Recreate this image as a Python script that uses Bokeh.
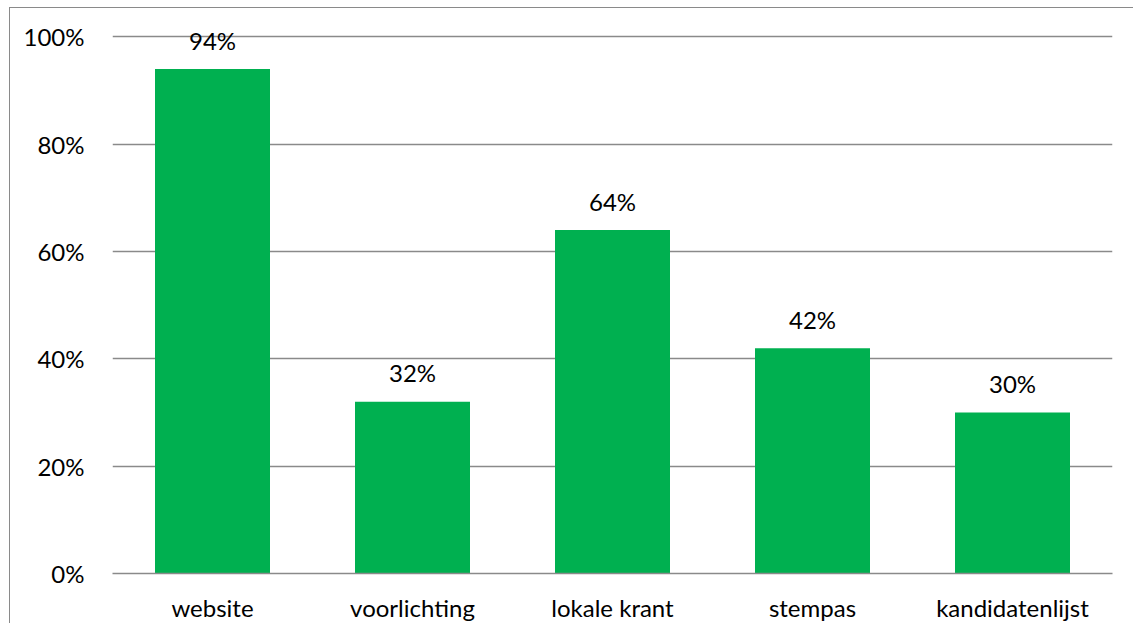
from bokeh.plotting import figure
from bokeh.models import ColumnDataSource, NumeralTickFormatter, FixedTicker, Range1d
from bokeh.core.properties import value
from bokeh.embed import file_html
from bokeh.resources import INLINE

categories = ["website", "voorlichting", "lokale krant", "stempas", "kandidatenlijst"]
values = [0.94, 0.32, 0.64, 0.42, 0.30]
labels = ["94%", "32%", "64%", "42%", "30%"]
y_ticks = [0, 0.2, 0.4, 0.6, 0.8, 1.0]

FONT = "Lato"
GRID = "#8a8a8a"

src = ColumnDataSource(dict(cat=categories, val=values, lab=labels))

p = figure(x_range=categories, y_range=Range1d(0, 1.025), width=1124, height=616,
           output_backend="svg", toolbar_location=None,
           min_border_left=102, min_border_right=22, min_border_top=15, min_border_bottom=40)
p.styles = {"border-top": "1.5px solid #8a8a8a", "border-left": "1.5px solid #8a8a8a",
            "margin-left": "9px", "margin-top": "7px"}

p.vbar(x="cat", top="val", width=0.575, source=src, color="#00B050", line_color=None)
p.text(x="cat", y="val", text="lab", source=src, text_align="center", text_baseline="alphabetic",
       y_offset=-29, text_font=value(FONT), text_font_size="24px", text_color="#000000")

p.outline_line_color = None
p.xgrid.grid_line_color = None
p.ygrid.grid_line_color = GRID
p.ygrid.grid_line_width = 1.5
p.yaxis.ticker = FixedTicker(ticks=y_ticks)
p.yaxis.formatter = NumeralTickFormatter(format="0%")
p.yaxis.axis_line_color = None
p.yaxis.major_tick_line_color = None
p.yaxis.minor_tick_line_color = None
p.yaxis.major_label_standoff = 22
p.xaxis.axis_line_color = GRID
p.xaxis.axis_line_width = 1.5
p.xaxis.major_tick_line_color = None
p.xaxis.minor_tick_line_color = None
p.xaxis.major_label_standoff = 13
for ax in (p.xaxis, p.yaxis):
    ax.major_label_text_font = FONT
    ax.major_label_text_font_size = "24px"
    ax.major_label_text_color = "#000000"

open("out.html", "w").write(file_html(p, INLINE))
